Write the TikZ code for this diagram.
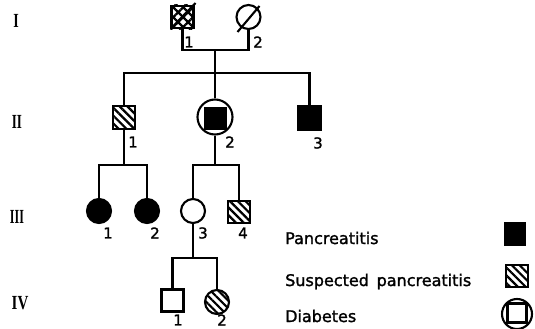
\documentclass[tikz,border=0pt]{standalone}
\usepackage{fontspec}
\setmainfont{DejaVu Sans}
\newfontfamily\labfont[FakeBold=1.5]{DejaVu Sans}
\newfontfamily\genfont{Liberation Serif}
\usetikzlibrary{patterns.meta}
\begin{document}
\begin{tikzpicture}[x=1pt,y=1pt,
  lw/.style={line width=2.1pt},
  sq/.style={draw, rectangle, lw, minimum size=22pt, inner sep=0pt},
  ci/.style={draw, circle, lw, minimum size=24pt, inner sep=0pt},
  hatch/.style={pattern={Lines[angle=-45,distance=5.5pt,line width=2.2pt]}},
  hatchx/.style={pattern={Lines[angle=45,distance=7pt,line width=2.3pt]}},
  hatchy/.style={pattern={Lines[angle=-45,distance=7pt,line width=2.3pt]}},
  lab/.style={font=\labfont\fontsize{15}{15}\selectfont, inner sep=0pt},
  gen/.style={font=\genfont\bfseries\fontsize{20}{20}\selectfont, inner sep=0pt},
  leg/.style={font=\labfont\fontsize{16}{16}\selectfont, inner sep=0pt, anchor=base west},
  conn/.style={lw}
]
\useasboundingbox (0,0) rectangle (535,-329);
% generation labels
\node[gen] (gI) at (16,-21) {\scalebox{0.7}[1]{I}};
\node[gen] (gII) at (17,-122) {\scalebox{0.65}[1]{II}};
\node[gen] (gIII) at (17,-217) {\scalebox{0.6}[1]{III}};
\node[gen] (gIV) at (20,-303) {\scalebox{0.75}[1]{IV}};
% generation I
\node[sq, hatchy] (I1) at (182.5,-17) {};
\fill[hatchx] (I1.south west) rectangle (I1.north east);
\node[sq] (I1b) at (182.5,-17) {};
\node[ci] (I2) at (248.5,-17) {};
\draw[lw] ([shift={(-11,-11)}]I1.center) -- ([shift={(13,14)}]I1.center);
\draw[lw] ([shift={(-11,-15)}]I2.center) -- ([shift={(11,11)}]I2.center);
\coordinate (mI) at (215,-50);
\draw[conn] (I1.south) |- (mI) -| (I2.south);
\coordinate (sII) at (215,-73);
\draw[conn] (mI) -- (sII);
% generation II
\node[sq, hatch, minimum size=22.5pt] (II1) at (124,-117.5) {};
\node[ci, minimum size=35pt] (II2) at (215,-117) {};
\node[rectangle, fill=black, minimum size=23pt, inner sep=0pt] (II2s) at (215,-118.5) {};
\node[sq, fill=black, minimum size=23pt] (II3) at (309.5,-118) {};
\draw[conn] (II1.north) |- (sII) -| (II3.north);
\draw[conn] (II2.north) -- (sII);
% generation III
\coordinate (cA) at (124,-165);
\coordinate (cB) at (215,-165);
\node[ci, fill=black] (III1) at (99,-211) {};
\node[ci, fill=black] (III2) at (147,-211) {};
\node[ci] (III3) at (193,-211) {};
\node[sq, hatch] (III4) at (239,-212) {};
\draw[conn] (II1.south) -- (cA);
\draw[conn] (III1.north) |- (cA) -| (III2.north);
\draw[conn] (II2.south) -- (cB);
\draw[conn] (III3.north) |- (cB) -| (III4.north);
% generation IV
\coordinate (cC) at (193,-258);
\node[sq] (IV1) at (172.5,-300.5) {};
\node[ci, hatch] (IV2) at (217,-302) {};
\draw[conn] (III3.south) -- (cC);
\draw[conn] (IV1.north) |- (cC) -| (IV2.north);
% number labels
\node[lab] (n11) at (189,-42) {1};
\node[lab] (n12) at (258,-42) {2};
\node[lab] (n21) at (133,-142) {1};
\node[lab] (n22) at (230,-142) {2};
\node[lab] (n23) at (318,-143) {3};
\node[lab] (n31) at (108,-233) {1};
\node[lab] (n32) at (155,-233) {2};
\node[lab] (n33) at (203,-233) {3};
\node[lab] (n34) at (243,-233) {4};
\node[lab] (n41) at (178,-320) {1};
\node[lab] (n42) at (222,-320) {2};
% legend
\node[leg] (t1) at (285,-244) {Pancreatitis};
\node[leg] (t2) at (285,-286) {Suspected\, pancreatitis};
\node[leg] (t3) at (285,-322) {Diabetes};
\node[sq, fill=black, minimum width=20pt, minimum height=21pt] (L1) at (515,-234) {};
\node[sq, hatch, minimum size=21.5pt] (L2) at (517,-276) {};
\node[ci, minimum size=30pt] (L3) at (517,-314) {};
\node[sq, minimum size=19pt] (L3s) at (517,-313) {};
\end{tikzpicture}
\end{document}
